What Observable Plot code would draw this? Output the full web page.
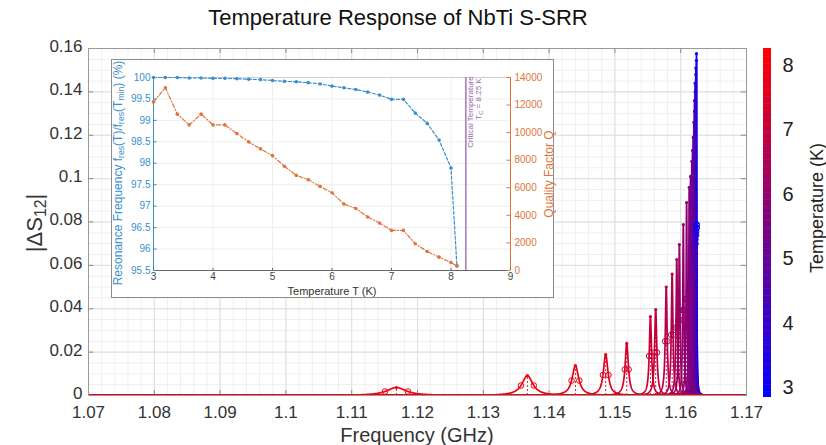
<!DOCTYPE html>
<html><head><meta charset="utf-8">
<script src="https://cdn.jsdelivr.net/npm/d3@7"></script>
<script src="https://cdn.jsdelivr.net/npm/@observablehq/plot@0.6"></script>
<style>
body{margin:0;background:#fff;}
#wrap{position:relative;width:826px;height:445px;font-family:"Liberation Sans",Arial,sans-serif;overflow:hidden;background:#fff;}
.lab{position:absolute;transform:translate(-50%,-50%);white-space:nowrap;line-height:1;}
.rot{position:absolute;transform:translate(-50%,-50%) rotate(-90deg);white-space:nowrap;line-height:1;}
sub{font-size:72%;vertical-align:-0.28em;line-height:0;}
svg{position:absolute;}
</style></head><body><div id="wrap"></div>
<script>
// ---------- data ----------
const temps = [3.0,3.2,3.4,3.6,3.8,4.0,4.2,4.4,4.6,4.8,5.0,5.2,5.4,5.6,5.8,6.0,6.2,6.4,6.6,6.8,7.0,7.2,7.4,7.6,7.8,8.0,8.1];
// inset: normalised resonance frequency (%) and quality factor
const fresPct = [100,100,100,99.99,99.99,99.98,99.98,99.97,99.96,99.95,99.93,99.91,99.9,99.88,99.85,99.8,99.76,99.72,99.66,99.59,99.49,99.49,99.17,98.93,98.54,97.89,95.61];
const qFactor = [12230,13250,11340,10560,11340,10560,10560,9930,9330,8820,8330,7560,6900,6590,6100,5640,4820,4500,3880,3440,2910,2910,1940,1380,970,580,320];
// main chart: resonance peak frequency (GHz) and height |ΔS12|
const peakFreq = [1.1624,1.1624,1.1623,1.1623,1.1622,1.1622,1.1621,1.1621,1.1620,1.1619,1.1618,1.1617,1.1615,1.1613,1.1609,1.1604,1.1598,1.1594,1.1587,1.1578,1.1562,1.1554,1.1518,1.1486,1.1440,1.1367,1.1168];
const peakHeight = [0.1576,0.1545,0.151,0.148,0.144,0.140,0.136,0.131,0.126,0.119,0.113,0.108,0.101,0.096,0.089,0.0788,0.0696,0.0627,0.056,0.050,0.0396,0.0364,0.024,0.0189,0.0138,0.0092,0.0037];
const xTicks = [1.07,1.08,1.09,1.1,1.11,1.12,1.13,1.14,1.15,1.16,1.17];
const yTicks = [0,0.02,0.04,0.06,0.08,0.1,0.12,0.14,0.16];
const cbTicks = [3,4,5,6,7,8];
const insetXTicks = [3,4,5,6,7,8,9];
const insetFTicks = [95.5,96,96.5,97,97.5,98,98.5,99,99.5,100];
const insetQTicks = [0,2000,4000,6000,8000,10000,12000,14000];
const tCritical = 8.25;

// ---------- derived tables ----------
const FONT = '"Liberation Sans", Arial, sans-serif';
const colorScale = {type:"linear", domain:[2.85,8.26], range:["#0000ff","#ff0000"], interpolate:"rgb"};
const fmt = d => String(+(+d).toFixed(3));
const peaks = temps.map((T,i)=>({T, f:peakFreq[i], h:peakHeight[i], g:peakFreq[i]/(2*qFactor[i])}));
const fGrid = d3.range(0,1001).map(i=>1.07+i*0.0001);
const curveRows = [];
for (const p of peaks) {
  const fs = fGrid.concat(d3.range(-1.565,1.5651,0.01).map(t=>p.f+p.g*Math.tan(t)))
    .filter(f=>f>=1.07&&f<=1.17).sort((a,b)=>a-b);
  for (const f of fs) curveRows.push({T:p.T, f, y:p.h/(1+((f-p.f)/p.g)**2)});
}
const halfPts = peaks.flatMap(p=>[{T:p.T,f:p.f-p.g,y:p.h/2},{T:p.T,f:p.f+p.g,y:p.h/2}]);
const xMinor = d3.range(0,51).map(i=>1.07+i*0.002);
const yMinor = d3.range(0,33).map(i=>i*0.005);
const wrap = document.getElementById("wrap");

// ---------- main chart ----------
const main = Plot.plot({
  width:760, height:445, marginLeft:88, marginRight:14, marginTop:48, marginBottom:50,
  x:{domain:[1.07,1.17]}, y:{domain:[0,0.16]}, color:colorScale,
  style:{fontFamily:FONT, fontSize:"17px", background:"transparent", overflow:"visible"},
  marks:[
    Plot.ruleX(xMinor,{stroke:"#efefef"}),
    Plot.ruleY(yMinor,{stroke:"#efefef"}),
    Plot.ruleX(xTicks,{stroke:"#dedede"}),
    Plot.ruleY(yTicks,{stroke:"#dedede"}),
    Plot.ruleX(xTicks,{x:d=>d, y1:()=>0, y2:()=>0.0023, stroke:"#8a8a8a"}),
    Plot.ruleX(xTicks,{x:d=>d, y1:()=>0.16, y2:()=>0.1577, stroke:"#8a8a8a"}),
    Plot.ruleY(yTicks,{y:d=>d, x1:()=>1.07, x2:()=>1.0708, stroke:"#8a8a8a"}),
    Plot.ruleY(yTicks,{y:d=>d, x1:()=>1.17, x2:()=>1.1692, stroke:"#8a8a8a"}),
    Plot.ruleX(peaks,{x:"f", y1:()=>0, y2:"h", stroke:"T", strokeDasharray:"2,2", strokeWidth:0.9, clip:true}),
    Plot.line(curveRows,{x:"f", y:"y", z:"T", stroke:"T", strokeWidth:1.7, clip:true}),
    Plot.dot(halfPts,{x:"f", y:"y", stroke:"T", r:2.8, strokeWidth:1}),
    Plot.dot(peaks,{x:"f", y:"h", fill:"T", r:1.6}),
    Plot.frame({stroke:"#9a9a9a"}),
    Plot.axisX({ticks:xTicks, tickSize:0, tickPadding:10, tickFormat:fmt, label:null, color:"#333"}),
    Plot.axisY({ticks:yTicks, tickSize:0, tickPadding:6, tickFormat:fmt, label:null, color:"#333", dy:-2})
  ]
});
main.style.left="0px"; main.style.top="0px";
wrap.appendChild(main);

// ---------- colorbar ----------
const step = (8.26-2.85)/200;
const stripes = d3.range(0,200).map(i=>2.85+i*step);
const cbar = Plot.plot({
  width:86, height:445, marginLeft:23, marginRight:55, marginTop:48, marginBottom:48,
  x:{domain:[0,1], axis:null}, y:{domain:[2.85,8.26]}, color:colorScale,
  style:{fontFamily:FONT, fontSize:"20px", background:"transparent", overflow:"visible"},
  marks:[
    Plot.rect(stripes,{x1:()=>0, x2:()=>1, y1:d=>d, y2:d=>Math.min(8.26,d+step*1.3), fill:d=>d+step/2}),
    Plot.axisY({ticks:cbTicks, anchor:"right", tickSize:0, tickPadding:11, tickFormat:d=>String(d), label:null, color:"#222"})
  ]
});
cbar.style.left="740px"; cbar.style.top="0px";
wrap.appendChild(cbar);

// ---------- inset ----------
const BLUE="#3a90cc", ORANGE="#e0743c", PURPLE="#9a62ad";
const qToY = q => 95.5 + q/14000*4.5;
const insetRows = temps.map((T,i)=>({T, f:fresPct[i], q:qFactor[i]}));
const box = document.createElement("div");
Object.assign(box.style,{position:"absolute",left:"111px",top:"59px",width:"443px",height:"239px",boxSizing:"border-box",border:"1px solid #8c8c8c",background:"#fff"});
wrap.appendChild(box);
const inset = Plot.plot({
  width:443, height:239, marginLeft:42, marginRight:44, marginTop:18, marginBottom:28,
  x:{domain:[3,9]}, y:{domain:[95.5,100]},
  style:{fontFamily:FONT, fontSize:"10px", background:"transparent", overflow:"visible"},
  marks:[
    Plot.ruleX([4,5,6,7,8],{stroke:"#eeeeee"}),
    Plot.ruleY([96,96.5,97,97.5,98,98.5,99,99.5],{stroke:"#eeeeee"}),
    Plot.ruleY([100],{stroke:"#d0d0d0"}),
    Plot.ruleY([95.5],{stroke:"#666"}),
    Plot.ruleX([3],{stroke:BLUE}),
    Plot.ruleX([9],{stroke:ORANGE}),
    Plot.ruleX(insetXTicks,{x:d=>d, y1:()=>95.5, y2:()=>95.55, stroke:"#666"}),
    Plot.ruleY(insetFTicks,{y:d=>d, x1:()=>3, x2:()=>3.06, stroke:BLUE}),
    Plot.ruleY(insetQTicks.map(qToY),{y:d=>d, x1:()=>8.94, x2:()=>9, stroke:ORANGE}),
    Plot.ruleX([tCritical],{stroke:PURPLE, strokeWidth:1.3}),
    Plot.line(insetRows,{x:"T", y:"f", stroke:BLUE, strokeWidth:1.2, strokeDasharray:"3,2"}),
    Plot.dot(insetRows,{x:"T", y:"f", fill:BLUE, r:1.8}),
    Plot.line(insetRows,{x:"T", y:d=>qToY(d.q), stroke:ORANGE, strokeWidth:1.2, strokeDasharray:"4,2,1,2"}),
    Plot.dot(insetRows,{x:"T", y:d=>qToY(d.q), fill:ORANGE, r:1.8}),
    Plot.axisX({ticks:insetXTicks, tickSize:0, tickPadding:2, tickFormat:d=>String(d), label:null, color:"#444", fontSize:10}),
    Plot.axisY({ticks:insetFTicks, tickSize:0, tickPadding:3, tickFormat:d=>String(d), label:null, color:BLUE, fontSize:10}),
    Plot.axisY({ticks:insetQTicks.map(qToY), anchor:"right", tickSize:0, tickPadding:4, label:null, color:ORANGE, fontSize:10,
      tickFormat:v=>String(Math.round((v-95.5)/4.5*14000/100)*100)})
  ]
});
inset.style.left="111px"; inset.style.top="59px";
wrap.appendChild(inset);

// ---------- text labels ----------
function label(html, x, y, size, color, rot){
  const d=document.createElement("div");
  d.className = rot ? "rot" : "lab";
  d.innerHTML = html;
  Object.assign(d.style,{left:x+"px", top:y+"px", fontSize:size+"px", color});
  wrap.appendChild(d);
}
label("Temperature Response of NbTi S-SRR", 398, 18, 22, "#111", false);
label("Frequency (GHz)", 417, 435, 20, "#333", false);
label("|ΔS<sub>12</sub>|", 35, 223, 22, "#333", true);
label("Temperature (K)", 817, 208, 18, "#222", true);
label("Resonance Frequency f<sub>res</sub>(T)/f<sub>res</sub>(T<sub>min</sub>) (%)", 118, 173, 12, BLUE, true);
label("Quality Factor Q", 549, 174, 12, ORANGE, true);
label("Temperature T (K)", 332, 291, 11, "#333", false);
label("Critical Temperature", 471, 112, 8, PURPLE, true);
label("T<sub>C</sub> = 8.25 K", 479, 99, 8, PURPLE, true);
</script></body></html>
